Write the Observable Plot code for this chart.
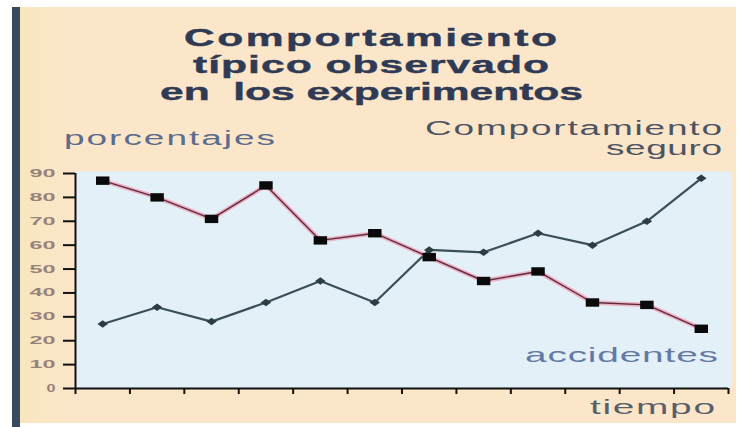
<!DOCTYPE html>
<html>
<head>
<meta charset="utf-8">
<script src="https://cdn.jsdelivr.net/npm/d3@7"></script>
<script src="https://cdn.jsdelivr.net/npm/@observablehq/plot@0.6"></script>
<style>
  html, body { margin: 0; padding: 0; background: #ffffff; }
  #chart { position: relative; width: 739px; height: 427px; overflow: hidden; background: #ffffff; }
  #panel { position: absolute; left: 20px; top: 7px; width: 716px; height: 416px;
           background: linear-gradient(to right, #f8e6bf 0px, #fce6c9 50px, #fce6c9 100%); }
  #bar { position: absolute; left: 12px; top: 7px; width: 8px; height: 420px; background: #3a4a5e; }
  #chart svg { position: absolute; left: 0; top: 0; overflow: visible; }
  #labels { pointer-events: none; }
  #labels text { font-family: "Liberation Sans", Arial, sans-serif; white-space: pre; }
</style>
</head>
<body>
<div id="chart">
  <div id="panel"></div>
  <div id="bar"></div>
</div>
<script>
// Time steps of the experiment (one point per step)
const periods = [1, 2, 3, 4, 5, 6, 7, 8, 9, 10, 11, 12];
// Percentage of accidents per step
const accidentes = [87, 80, 71, 85, 62, 65, 55, 45, 49, 36, 35, 25];
// Percentage of safe behaviour per step
const seguro = [27, 34, 28, 36, 45, 36, 58, 57, 65, 60, 70, 88];
// Axis ticks
const yTicks = [0, 10, 20, 30, 40, 50, 60, 70, 80, 90];
const xTicks = [0.5, 1.5, 2.5, 3.5, 4.5, 5.5, 6.5, 7.5, 8.5, 9.5, 10.5, 11.5, 12.5];

const accRows = periods.map((p, i) => ({p, v: accidentes[i]}));
const segRows = periods.map((p, i) => ({p, v: seguro[i]}));

// Wide rectangle marker for the accident series
const wideSquare = {
  draw(ctx, size) {
    const h = Math.sqrt(size / 1.6), w = h * 1.6;
    ctx.rect(-w / 2, -h / 2, w, h);
  }
};
// Small flattened diamond for the safe-behaviour series
const flatDiamond = {
  draw(ctx, size) {
    const h = Math.sqrt(size / 1.4), w = h * 1.4;
    ctx.moveTo(-w / 2, 0);
    ctx.lineTo(0, -h / 2);
    ctx.lineTo(w / 2, 0);
    ctx.lineTo(0, h / 2);
    ctx.closePath();
  }
};

const plot = Plot.plot({
  width: 739,
  height: 427,
  marginLeft: 75,
  marginRight: 11,
  marginTop: 173,
  marginBottom: 39,
  style: {background: "transparent", fontFamily: "Liberation Sans, Arial, sans-serif"},
  x: {domain: [0.5, 12.5], axis: null},
  y: {domain: [0, 90], axis: null},
  marks: [
    Plot.frame({fill: "#e3f0f8", stroke: null, insetTop: -2, insetRight: -3}),
    Plot.axisY({
      ticks: yTicks, tickSize: 12, tickPadding: 8, strokeWidth: 2, stroke: "#111",
      fill: "#97837a", fontSize: 11, fontWeight: 600, label: null
    }),
    Plot.axisX({
      ticks: xTicks, tickSize: 6, strokeWidth: 2, stroke: "#111",
      tickFormat: () => "", label: null
    }),
    Plot.ruleX([0.5], {stroke: "#111", strokeWidth: 2}),
    Plot.ruleY([0], {stroke: "#111", strokeWidth: 2}),
    // safe behaviour
    Plot.line(segRows, {x: "p", y: "v", stroke: "#3a4f58", strokeWidth: 2.2}),
    Plot.dot(segRows, {x: "p", y: "v", symbol: flatDiamond, r: 5, fill: "#2c3d44", stroke: null}),
    // accidents
    Plot.line(accRows, {x: "p", y: "v", stroke: "#eeb0c4", strokeWidth: 4.5}),
    Plot.line(accRows, {x: "p", y: "v", stroke: "#5a2c3c", strokeWidth: 1.4}),
    Plot.dot(accRows, {x: "p", y: "v", symbol: wideSquare, r: 6, fill: "#0a0a0a", stroke: null})
  ]
});

// widen the y tick labels
d3.select(plot).selectAll('[aria-label="y-axis tick label"] text').each(function () {
  const n = this.textContent.length;
  this.setAttribute("textLength", n === 1 ? 9 : 26);
  this.setAttribute("lengthAdjust", "spacingAndGlyphs");
});

document.getElementById("chart").appendChild(plot);

// Titles and annotations
const bold = {size: 23, weight: "bold", fill: "#2f3a55", sx: 1.85, sw: 0.4};
const texts = [
  {t: "Comportamiento", x0: 184, x1: 557, y: 46, ...bold},
  {t: "típico observado", x0: 193, x1: 549, y: 73, ...bold},
  {t: "en  los experimentos", x0: 160, x1: 583, y: 100, ...bold},
  {t: "porcentajes", x0: 64, x1: 275, y: 145, size: 20, weight: "normal", fill: "#5b6c8c", sx: 1.85, sw: 0},
  {t: "Comportamiento", x0: 425, x1: 722, y: 135, size: 20, weight: "normal", fill: "#4c5464", sx: 1.85, sw: 0},
  {t: "seguro", x0: 606, x1: 722, y: 155, size: 20, weight: "normal", fill: "#4c5464", sx: 1.85, sw: 0},
  {t: "accidentes", x0: 525, x1: 718, y: 362, size: 21, weight: "normal", fill: "#6479a3", sx: 1.85, sw: 0},
  {t: "tiempo", x0: 590, x1: 715, y: 414, size: 21, weight: "normal", fill: "#575f6c", sx: 1.85, sw: 0}
];

const ns = "http://www.w3.org/2000/svg";
const overlay = document.createElementNS(ns, "svg");
overlay.setAttribute("id", "labels");
overlay.setAttribute("width", 739);
overlay.setAttribute("height", 427);
for (const d of texts) {
  const el = document.createElementNS(ns, "text");
  el.textContent = d.t;
  el.setAttribute("transform", `translate(${d.x0},${d.y}) scale(${d.sx},1)`);
  el.setAttribute("font-size", d.size);
  el.setAttribute("font-weight", d.weight);
  el.setAttribute("fill", d.fill);
  if (d.sw) {
    el.setAttribute("stroke", d.fill);
    el.setAttribute("stroke-width", d.sw);
  }
  el.setAttribute("textLength", (d.x1 - d.x0) / d.sx);
  el.setAttribute("lengthAdjust", "spacing");
  overlay.appendChild(el);
}
document.getElementById("chart").appendChild(overlay);
</script>
</body>
</html>
